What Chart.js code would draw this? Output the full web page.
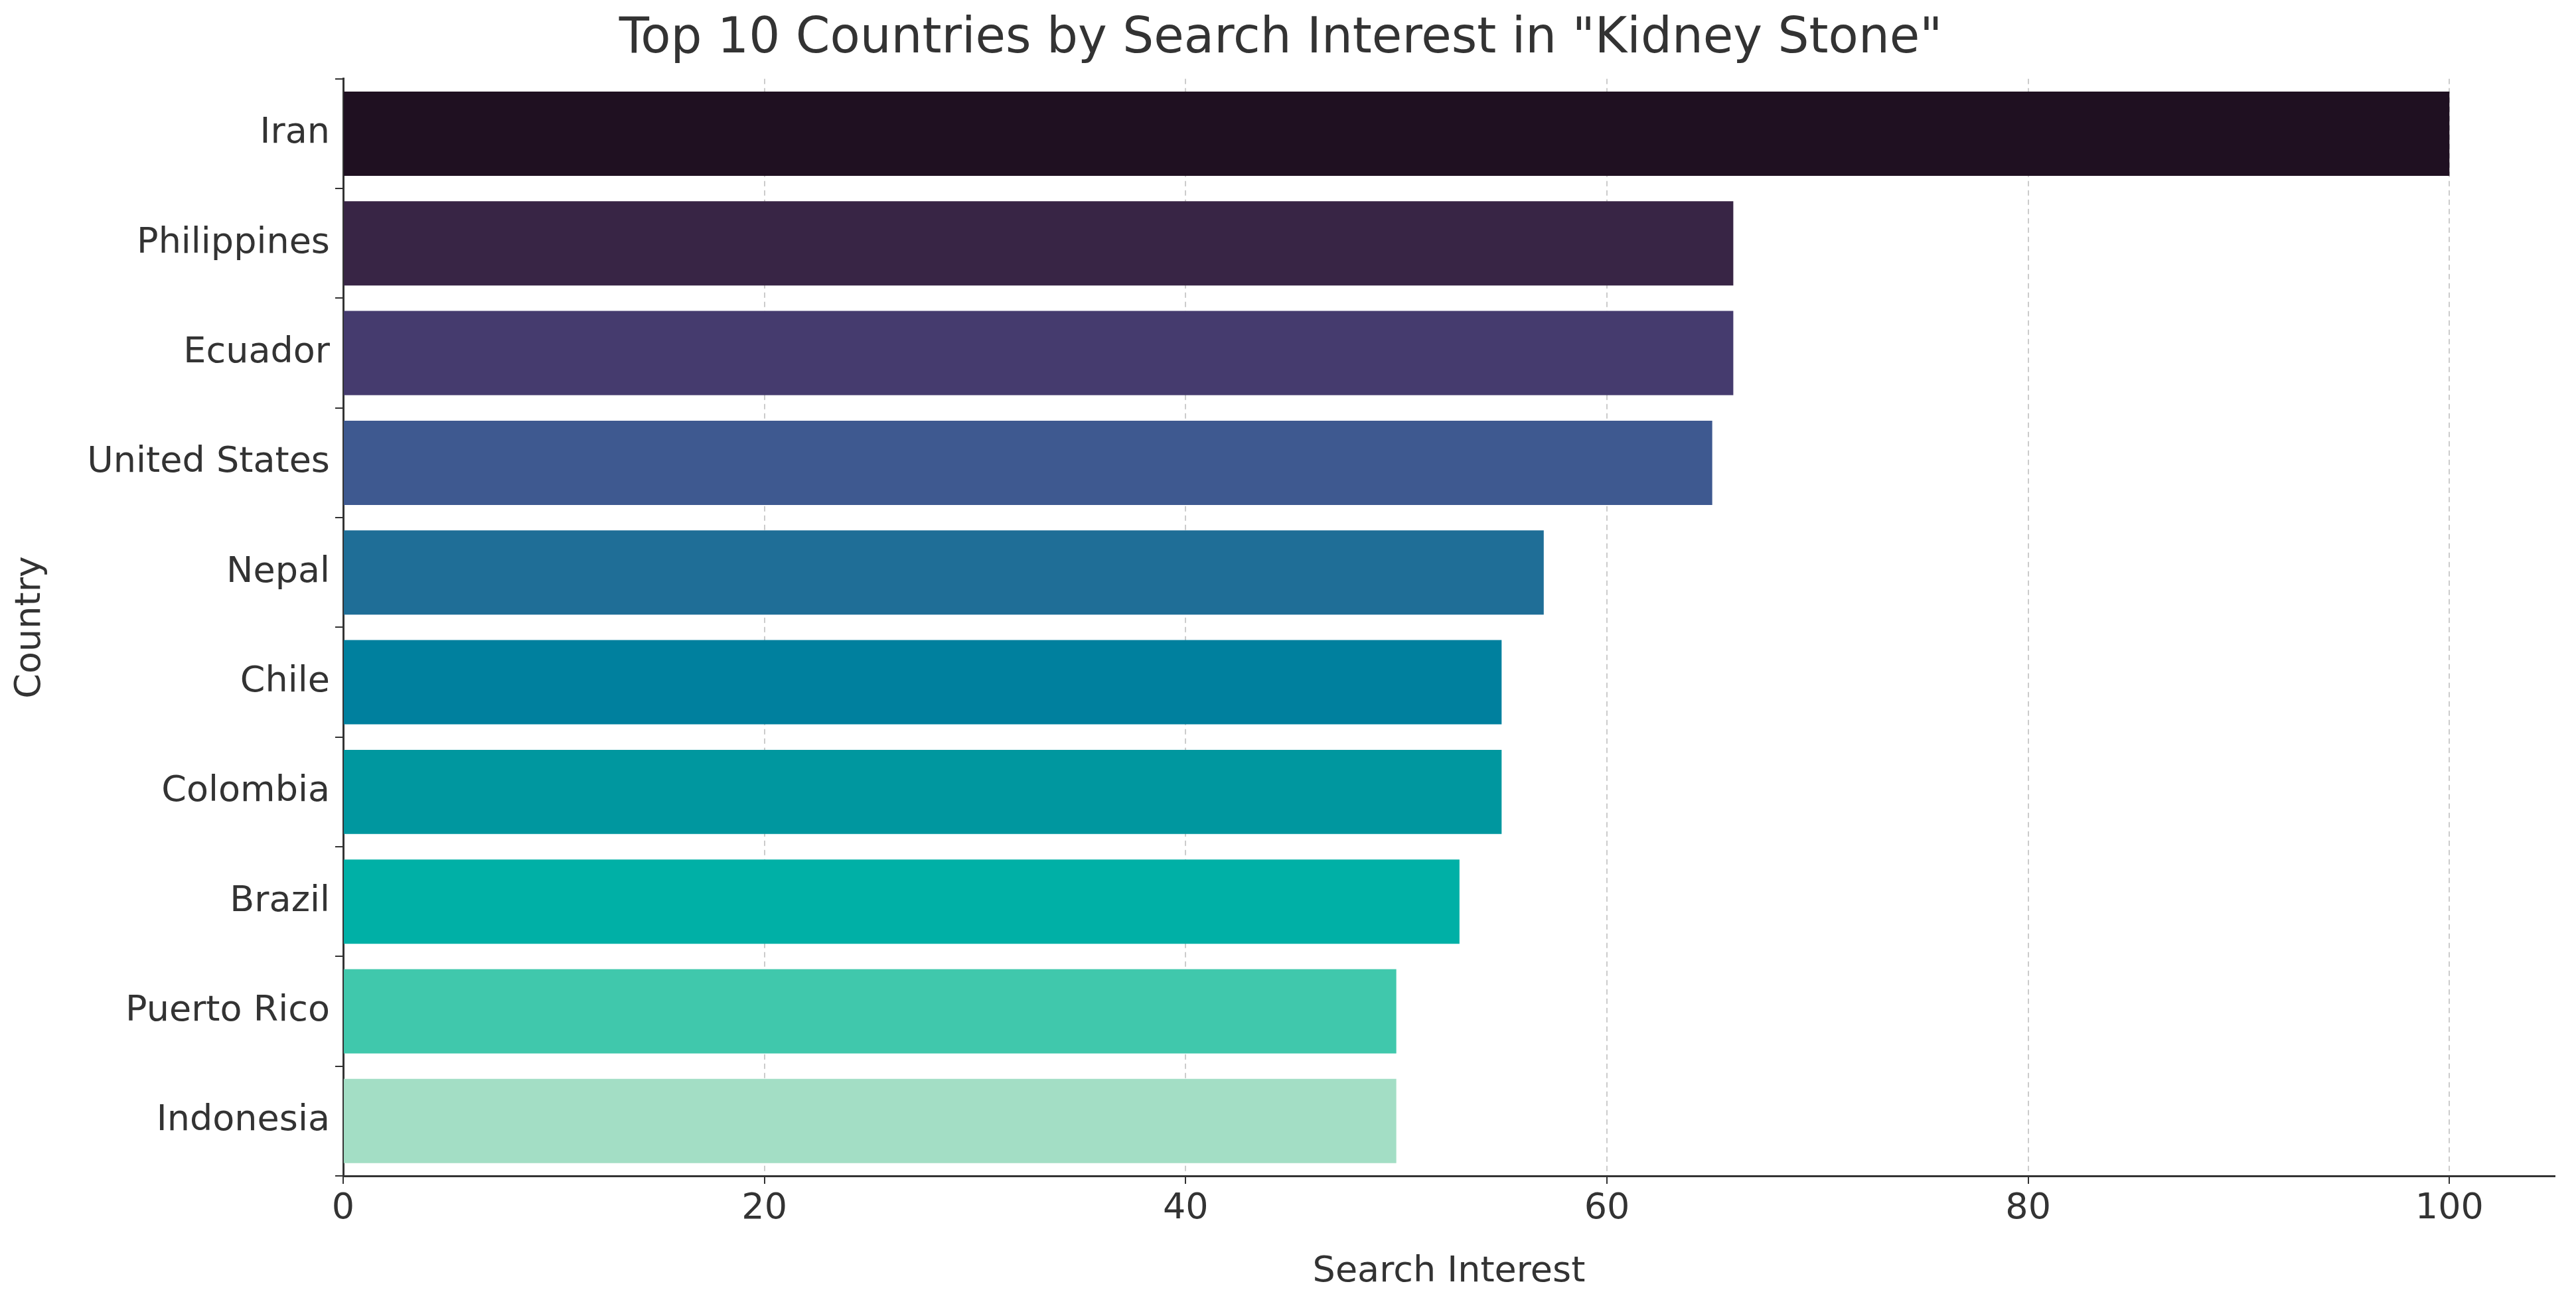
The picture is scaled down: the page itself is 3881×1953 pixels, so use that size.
<!DOCTYPE html>
<html>
<head>
<meta charset="utf-8">
<script src="https://cdn.jsdelivr.net/npm/chart.js@4"></script>
<style>
	html, body { margin: 0; padding: 0; background: #fff; }
	#chart { display: block; }
</style>
</head>
<body>
<canvas id="chart" width="3881" height="1953"></canvas>
<script>
const countries = ['Iran', 'Philippines', 'Ecuador', 'United States', 'Nepal', 'Chile', 'Colombia', 'Brazil', 'Puerto Rico', 'Indonesia'];
const interest = [100, 66, 66, 65, 57, 55, 55, 53, 50, 50];
const barColors = ['#1f1021', '#382545', '#453b6e', '#3e5990', '#1f6e97', '#00809e', '#00979f', '#00b0a6', '#40c8ac', '#a3dec5'];
const xTicks = [0, 20, 40, 60, 80, 100];

Chart.defaults.font.family = '"DejaVu Sans", sans-serif';
Chart.defaults.color = '#333';

new Chart(document.getElementById('chart'), {
	type: 'bar',
	data: {
		labels: countries,
		datasets: [{
			data: interest,
			backgroundColor: barColors,
			barPercentage: 0.96,
			categoryPercentage: 0.8,
		}],
	},
	options: {
		indexAxis: 'y',
		responsive: false,
		animation: false,
		devicePixelRatio: 1,
		layout: { padding: { top: 0, right: 32, left: 10, bottom: 0 } },
		plugins: {
			legend: { display: false },
			tooltip: { enabled: false },
			title: {
				display: true,
				text: 'Top 10 Countries by Search Interest in "Kidney Stone"',
				font: { size: 74, weight: 'normal' },
				color: '#333',
				padding: { top: 15, bottom: 15 },
			},
		},
		scales: {
			x: {
				min: 0,
				max: 105,
				afterBuildTicks: (axis) => { axis.ticks = xTicks.map((value) => ({ value })); },
				afterFit: (axis) => { axis.height = 181; },
				ticks: { font: { size: 54 }, color: '#333', padding: 6 },
				grid: { color: '#cccccc', lineWidth: 2, tickLength: 12, tickColor: '#333' },
				border: { display: true, color: '#333', width: 3, dash: [8, 6] },
				title: { display: true, text: 'Search Interest', font: { size: 54 }, color: '#333', padding: { top: 0 } },
			},
			y: {
				afterFit: (axis) => { axis.width = 507; },
				ticks: { font: { size: 54 }, color: '#333', padding: 8 },
				grid: { drawOnChartArea: false, tickLength: 12, tickColor: '#333', lineWidth: 2 },
				border: { display: true, color: '#333', width: 3 },
				title: { display: true, text: 'Country', font: { size: 54 }, color: '#333', padding: { bottom: 0 } },
			},
		},
	},
});
</script>
</body>
</html>
